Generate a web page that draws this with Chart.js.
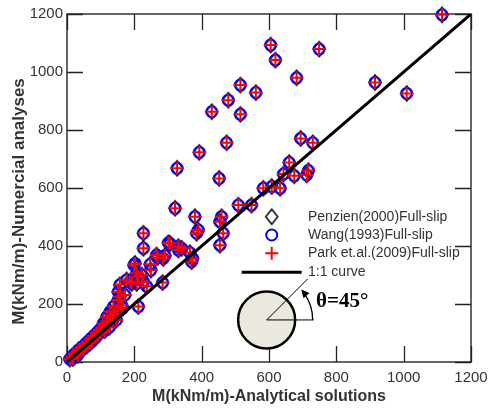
<!DOCTYPE html>
<html><head><meta charset="utf-8">
<script src="https://cdn.jsdelivr.net/npm/chart.js@4.4.0/dist/chart.umd.min.js"></script>
<style>html,body{margin:0;padding:0;background:#fff}</style>
</head><body>
<canvas id="c" width="489" height="410"></canvas>
<script>
// ---- data ----
const analytical = [8,15,18,22,28,32,35,40,45,50,55,58,62,68,72,75,80,85,88,92,96,100,104,108,112,116,118,122,126,128,132,136,138,142,147,150,152,152,157,157,162,166,172,177,187,192,199,202,207,207,212,212,222,227,227,227,237,247,249,
266,269,284,286,291,301,306,321,327,331,331,341,365,370,373,380,385,390,393,430,452,454,459,454,464,474,479,509,515,515,548,561,583,605,608,619,633,643,660,675,682,694,712,717,730,749,915,1009,1114];
const numerical = [10,18,12,28,30,24,42,38,52,48,62,55,70,66,82,72,90,84,100,95,110,102,118,133,108,128,156,140,120,174,150,145,191,165,145,178,214,242,225,266,195,186,231,283,277,271,334,340,306,271,294,191,300,277,444,392,261,337,317,
369,360,274,357,367,411,409,530,668,398,386,392,377,346,357,501,444,455,723,863,633,484,501,403,444,756,903,541,955,854,541,929,599,1093,605,1041,599,648,688,642,980,771,645,660,756,1079,964,926,1197];
// the three methods give coincident values in the picture
const penzienY = numerical;
const wangY = numerical;
const parkY = numerical;
const oneToOneX = [0, 1200];
const oneToOneY = [0, 1200];
const seriesNames = ['Penzien(2000)Full-slip', 'Wang(1993)Full-slip', 'Park et.al.(2009)Full-slip', '1:1 curve'];
const tickValues = [0, 200, 400, 600, 800, 1000, 1200];
const tickLabels = ['0', '200', '400', '600', '800', '1000', '1200'];
const xTitle = 'M(kNm/m)-Analytical solutions';
const yTitle = 'M(kNm/m)-Numercial analyses';
const angleLabel = 'θ=45°';
const insetCenter = [593, 145];

const toPts = (xs, ys) => xs.map((x, i) => ({x: x, y: ys[i]}));

// tall diamond marker
function makeDiamond(hw, hh, lw) {
  const c = document.createElement('canvas');
  c.width = Math.ceil(2 * hw + 4); c.height = Math.ceil(2 * hh + 4);
  const g = c.getContext('2d');
  const cx = c.width / 2, cy = c.height / 2;
  g.strokeStyle = '#000'; g.lineWidth = lw;
  g.beginPath();
  g.moveTo(cx, cy - hh); g.lineTo(cx + hw, cy); g.lineTo(cx, cy + hh); g.lineTo(cx - hw, cy); g.closePath();
  g.stroke();
  return c;
}
const diamond = makeDiamond(6, 7.5, 1.5);

const FONT = '"Liberation Sans", Arial, Helvetica, sans-serif';
const TXT = '#333';
const AREA = { left: 67, right: 471, top: 14, bottom: 362 };

const decor = {
  id: 'decor',
  beforeDatasetsDraw(chart) {
    const ctx = chart.ctx, a = chart.chartArea;
    const xs = chart.scales.x, ys = chart.scales.y;
    ctx.save();
    ctx.strokeStyle = '#333';
    ctx.lineWidth = 1.5;
    ctx.strokeRect(a.left, a.top, a.right - a.left, a.bottom - a.top);
    ctx.lineWidth = 1.3;
    ctx.strokeStyle = '#222';
    const L = 16;
    ctx.beginPath();
    tickValues.forEach(v => {
      const px = Math.round(xs.getPixelForValue(v)) + 0.5;
      ctx.moveTo(px, a.bottom); ctx.lineTo(px, a.bottom - L);
      ctx.moveTo(px, a.top); ctx.lineTo(px, a.top + L);
      const py = Math.round(ys.getPixelForValue(v)) + 0.5;
      ctx.moveTo(a.left, py); ctx.lineTo(a.left + L, py);
      ctx.moveTo(a.right, py); ctx.lineTo(a.right - L, py);
    });
    ctx.stroke();
    // axis titles
    ctx.fillStyle = TXT;
    ctx.font = 'bold 16px ' + FONT;
    ctx.textAlign = 'center'; ctx.textBaseline = 'middle';
    ctx.fillText(xTitle, (a.left + a.right) / 2, 397);
    ctx.save();
    ctx.font = 'bold 17px ' + FONT;
    ctx.translate(19, 201.5);
    ctx.rotate(-Math.PI / 2);
    ctx.fillText(yTitle, 0, 0);
    ctx.restore();
    ctx.restore();
  },
  afterDatasetsDraw(chart) {
    const ctx = chart.ctx;
    const xs = chart.scales.x, ys = chart.scales.y;
    ctx.save();
    // legend
    const mx = 271.7, tx = 308;
    const rows = [216.7, 235, 253.3, 272.3];
    ctx.drawImage(diamond, mx - diamond.width / 2, rows[0] - diamond.height / 2);
    ctx.strokeStyle = '#0000ff'; ctx.lineWidth = 2;
    ctx.beginPath(); ctx.arc(mx, rows[1], 5.5, 0, Math.PI * 2); ctx.stroke();
    ctx.strokeStyle = '#ff0000'; ctx.lineWidth = 2;
    ctx.beginPath();
    ctx.moveTo(mx - 6.5, rows[2]); ctx.lineTo(mx + 6.5, rows[2]);
    ctx.moveTo(mx, rows[2] - 6.5); ctx.lineTo(mx, rows[2] + 6.5);
    ctx.stroke();
    ctx.strokeStyle = '#000'; ctx.lineWidth = 3;
    ctx.beginPath(); ctx.moveTo(241.7, rows[3]); ctx.lineTo(301.7, rows[3]); ctx.stroke();
    ctx.fillStyle = TXT;
    ctx.font = '14px ' + FONT;
    ctx.textAlign = 'left'; ctx.textBaseline = 'middle';
    seriesNames.forEach((n, i) => ctx.fillText(n, tx, rows[i]));
    // inset circle with 45 degree angle
    const cx = xs.getPixelForValue(insetCenter[0]);
    const cy = ys.getPixelForValue(insetCenter[1]);
    ctx.fillStyle = '#ebe8dd';
    ctx.strokeStyle = '#000'; ctx.lineWidth = 2.5;
    ctx.beginPath(); ctx.arc(cx, cy, 28.5, 0, Math.PI * 2); ctx.fill(); ctx.stroke();
    ctx.lineWidth = 1;
    ctx.beginPath();
    ctx.moveTo(cx, cy); ctx.lineTo(cx + 47, cy);
    ctx.moveTo(cx, cy); ctx.lineTo(cx + 41, cy - 41);
    ctx.stroke();
    ctx.lineWidth = 1.3;
    const R = 46;
    ctx.beginPath(); ctx.arc(cx, cy, R, 0, -0.62, true); ctx.stroke();
    // arrow head
    const ang = -0.72;
    const tipX = cx + R * Math.cos(ang), tipY = cy + R * Math.sin(ang);
    const dir = ang - Math.PI / 2;
    const bx = tipX - 8 * Math.cos(dir), by = tipY - 8 * Math.sin(dir);
    const nx = -Math.sin(dir) * 4, ny = Math.cos(dir) * 4;
    ctx.fillStyle = '#000';
    ctx.beginPath(); ctx.moveTo(tipX, tipY); ctx.lineTo(bx + nx, by + ny); ctx.lineTo(bx - nx, by - ny); ctx.closePath(); ctx.fill();
    ctx.font = 'bold 21px "Liberation Serif", "Times New Roman", serif';
    ctx.textAlign = 'left'; ctx.textBaseline = 'alphabetic';
    ctx.fillText(angleLabel, 316, 307);
    ctx.restore();
  }
};

const noScalePad = s => { s.paddingLeft = 0; s.paddingRight = 0; s.paddingTop = 0; s.paddingBottom = 0; };

const chart = new Chart(document.getElementById('c'), {
  type: 'scatter',
  data: {
    datasets: [
      { label: seriesNames[3], data: toPts(oneToOneX, oneToOneY), showLine: true, borderColor: '#000', borderWidth: 3, pointRadius: 0, order: 0 },
      { label: seriesNames[2], data: toPts(analytical, parkY), pointStyle: 'cross', pointRadius: 6.5, borderColor: '#ff0000', borderWidth: 2, backgroundColor: 'rgba(0,0,0,0)', order: 1, clip: false },
      { label: seriesNames[1], data: toPts(analytical, wangY), pointStyle: 'circle', pointRadius: 5.5, borderColor: '#0000ff', borderWidth: 2, backgroundColor: 'rgba(0,0,0,0)', order: 2, clip: false },
      { label: seriesNames[0], data: toPts(analytical, penzienY), pointStyle: diamond, pointRadius: 7, borderColor: '#000', backgroundColor: 'rgba(0,0,0,0)', order: 3, clip: false }
    ]
  },
  options: {
    responsive: false,
    animation: false,
    devicePixelRatio: 1,
    layout: { padding: { left: 0, right: 18, top: 14, bottom: 0 } },
    plugins: { legend: { display: false }, tooltip: { enabled: false } },
    scales: {
      x: {
        type: 'linear', min: 0, max: 1200,
        afterBuildTicks: s => { s.ticks = tickValues.map(v => ({value: v})); },
        ticks: { callback: (v, i) => tickLabels[i], color: TXT, font: { size: 15, family: FONT }, padding: 7, maxRotation: 0 },
        grid: { display: false, drawTicks: false },
        border: { display: false },
        afterFit: s => { s.height = 48; noScalePad(s); }
      },
      y: {
        type: 'linear', min: 0, max: 1200,
        afterBuildTicks: s => { s.ticks = tickValues.map(v => ({value: v})); },
        ticks: { callback: (v, i) => tickLabels[i], color: TXT, font: { size: 15, family: FONT }, padding: 4 },
        grid: { display: false, drawTicks: false },
        border: { display: false },
        afterFit: s => { s.width = 67; noScalePad(s); }
      }
    }
  },
  plugins: [decor]
});
// nudge layout padding so the plot area lands where the reference has it
const ca = chart.chartArea;
const pad = chart.options.layout.padding;
pad.left += AREA.left - ca.left;
pad.top += AREA.top - ca.top;
pad.right += ca.right - AREA.right;
pad.bottom += ca.bottom - AREA.bottom;
chart.update();
</script>
</body></html>
